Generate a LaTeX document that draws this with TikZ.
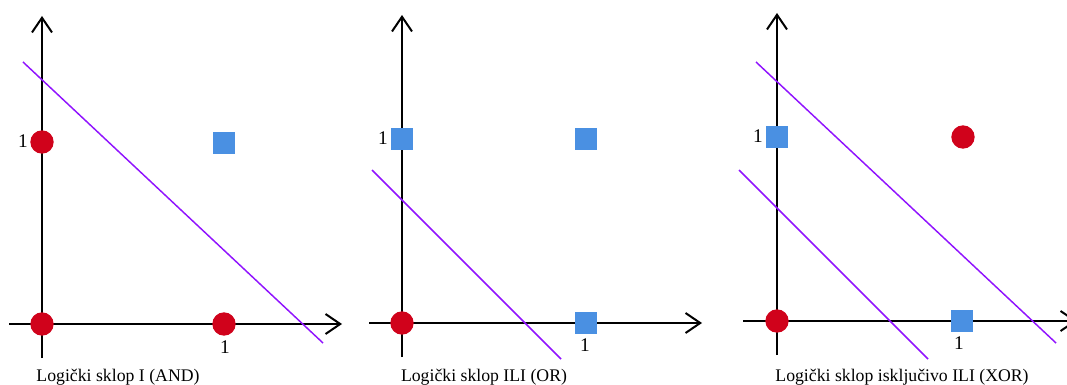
\documentclass[tikz,border=0pt]{standalone}
\usepackage{fontspec}
\setmainfont{Liberation Serif}
\usetikzlibrary{arrows.meta}
\definecolor{ptred}{HTML}{D0021B}
\definecolor{ptblue}{HTML}{4A90E2}
\definecolor{sepline}{HTML}{9013FE}
\begin{document}
\begin{tikzpicture}[x=0.75pt,y=-0.75pt,
  axis/.style={line width=1.5pt,-{Straight Barb[length=11pt,width=15pt,line width=1.5pt]}},
  redpt/.style={circle,fill=ptred,minimum size=17.5pt,inner sep=0pt},
  bluept/.style={rectangle,fill=ptblue,minimum size=16.7pt,inner sep=0pt},
  sep/.style={sepline,line width=1.1pt},
  lbl/.style={font=\fontsize{14.5}{17}\selectfont,inner sep=0pt},
  captext/.style={font=\fontsize{13.3}{16}\selectfont,inner sep=0pt}]
\useasboundingbox (0,0) rectangle (1067,385);
\clip (0,0) rectangle (1067,385);
% ---------- panel 1: AND ----------
\coordinate (a-yb) at (42,358);
\coordinate (a-yt) at (42,16);
\coordinate (a-xl) at (9,324);
\coordinate (a-xr) at (342,324);
\draw[axis] (a-yb) -- (a-yt);
\draw[axis] (a-xl) -- (a-xr);
\coordinate (a-l1) at (23,62);
\coordinate (a-l2) at (323,343);
\draw[sep] (a-l1) -- (a-l2);
\node[redpt] (a00) at (42,324) {};
\node[redpt] (a01) at (42,142) {};
\node[redpt] (a10) at (224,324) {};
\node[bluept] (a11) at (224,143) {};
\node[lbl,anchor=east] (a-ly) at (28,141) {1};
\node[lbl] (a-lx) at (225,347) {1};
\node[captext] (a-cap) at (118,377) {Logički sklop I (AND)};
% ---------- panel 2: OR ----------
\coordinate (o-yb) at (402,357);
\coordinate (o-yt) at (402,15);
\coordinate (o-xl) at (369,323);
\coordinate (o-xr) at (702,323);
\draw[axis] (o-yb) -- (o-yt);
\draw[axis] (o-xl) -- (o-xr);
\coordinate (o-l1) at (372,170);
\coordinate (o-l2) at (561,359);
\draw[sep] (o-l1) -- (o-l2);
\node[redpt] (o00) at (402,323) {};
\node[bluept] (o01) at (402,139) {};
\node[bluept] (o10) at (586,323) {};
\node[bluept] (o11) at (586,139) {};
\node[lbl,anchor=east] (o-ly) at (388,138) {1};
\node[lbl] (o-lx) at (585,345) {1};
\node[captext] (o-cap) at (484,377) {Logički sklop ILI (OR)};
% ---------- panel 3: XOR ----------
\coordinate (x-yb) at (777,355);
\coordinate (x-yt) at (777,13);
\coordinate (x-xl) at (743,321);
\coordinate (x-xr) at (1077,321);
\draw[axis] (x-yb) -- (x-yt);
\draw[axis] (x-xl) -- (x-xr);
\coordinate (x-u1) at (756,62);
\coordinate (x-u2) at (1056,343);
\coordinate (x-d1) at (739,170);
\coordinate (x-d2) at (928,359);
\draw[sep] (x-u1) -- (x-u2);
\draw[sep] (x-d1) -- (x-d2);
\node[redpt] (x00) at (777,321) {};
\node[bluept] (x01) at (777,137) {};
\node[bluept] (x10) at (962,321) {};
\node[redpt] (x11) at (963,137) {};
\node[lbl,anchor=east] (x-ly) at (763,136) {1};
\node[lbl] (x-lx) at (959,343) {1};
\node[captext] (x-cap) at (902,377) {Logički sklop isključivo ILI (XOR)};
\end{tikzpicture}
\end{document}
